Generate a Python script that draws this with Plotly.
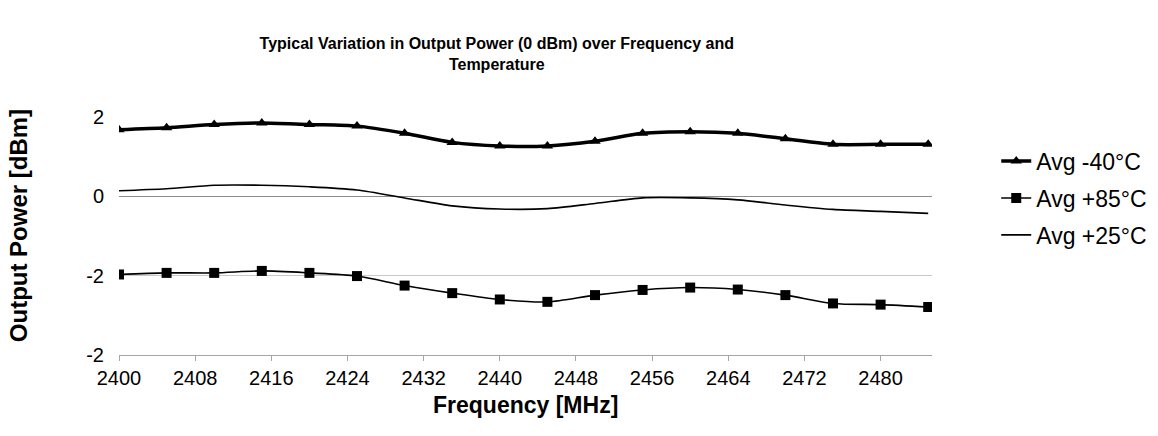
import plotly.graph_objects as go

freq = [2400, 2405, 2410, 2415, 2420, 2425, 2430, 2435, 2440, 2445,
        2450, 2455, 2460, 2465, 2470, 2475, 2480, 2485]
avg_m40 = [1.68, 1.73, 1.81, 1.85, 1.81, 1.77, 1.59, 1.36, 1.27, 1.27,
           1.39, 1.59, 1.63, 1.59, 1.45, 1.31, 1.31, 1.31]
avg_p85 = [-1.97, -1.93, -1.93, -1.88, -1.93, -2.01, -2.25, -2.44, -2.60, -2.66,
           -2.49, -2.36, -2.30, -2.35, -2.49, -2.70, -2.73, -2.79]
avg_p25 = [0.14, 0.19, 0.28, 0.28, 0.24, 0.16, -0.04, -0.24, -0.32, -0.31,
           -0.18, -0.04, -0.04, -0.09, -0.22, -0.33, -0.38, -0.43]

x_ticks = [2400, 2408, 2416, 2424, 2432, 2440, 2448, 2456, 2464, 2472, 2480]
y_ticks = [2, 0, -2, -4]
y_tick_text = ["2", "0", "-2", "-2"]

FONT = "Liberation Sans, Arial, sans-serif"

fig = go.Figure()
fig.add_trace(go.Scatter(
    x=freq, y=avg_m40, name="Avg -40°C", mode="lines+markers",
    line=dict(color="black", width=3.5, shape="spline", smoothing=0.8),
    marker=dict(symbol="triangle-up", size=10, color="black"),
    legendgroup="a"))
fig.add_trace(go.Scatter(
    x=freq, y=avg_p85, name="Avg +85°C", mode="lines+markers",
    line=dict(color="black", width=1.6, shape="spline", smoothing=0.8),
    marker=dict(symbol="square", size=10, color="black"),
    legendgroup="b"))
fig.add_trace(go.Scatter(
    x=freq, y=avg_p25, name="Avg +25°C", mode="lines",
    line=dict(color="black", width=1.6, shape="spline", smoothing=0.8),
    legendgroup="c"))

fig.update_layout(
    width=1158, height=436,
    margin=dict(l=119, r=226, t=117, b=81, autoexpand=False),
    paper_bgcolor="white", plot_bgcolor="white",
    font=dict(family=FONT, color="black"),
    title=dict(
        text="<b>Typical Variation in Output Power (0 dBm) over Frequency and<br>Temperature</b>",
        x=0.429, xanchor="center", y=0.888, yanchor="middle",
        font=dict(family=FONT, size=16, color="black")),
    legend=dict(x=1.079, xanchor="left", y=0.905, yanchor="top",
                traceorder="grouped", tracegroupgap=4,
                font=dict(family=FONT, size=23, color="black"),
                bgcolor="rgba(0,0,0,0)", itemwidth=30),
    xaxis=dict(
        range=[2400, 2485.4], tickvals=x_ticks, ticks="outside", ticklen=5,
        tickcolor="#a6a6a6", showline=True, linecolor="#a6a6a6", linewidth=1,
        showgrid=False, zeroline=False,
        tickfont=dict(family=FONT, size=20, color="black")),
    yaxis=dict(
        range=[-4, 2], tickvals=y_ticks, ticktext=y_tick_text,
        showgrid=True, gridcolor="#c8c8c8", gridwidth=1,
        zeroline=True, zerolinecolor="#8c8c8c", zerolinewidth=1,
        showline=False, ticks="", ticklabelstandoff=14,
        tickfont=dict(family=FONT, size=20, color="black")),
    annotations=[
        dict(text="<b>Output Power [dBm]</b>", textangle=-90,
             xref="paper", yref="paper", x=-0.124, y=0.542,
             xanchor="center", yanchor="middle", showarrow=False,
             font=dict(family=FONT, size=24, color="black")),
        dict(text="<b>Frequency [MHz]</b>",
             xref="paper", yref="paper", x=0.5, y=-0.21,
             xanchor="center", yanchor="middle", showarrow=False,
             font=dict(family=FONT, size=23, color="black")),
    ],
)

fig.write_html("out.html", config={"displayModeBar": False},
               post_script="document.body.style.margin='0';")
